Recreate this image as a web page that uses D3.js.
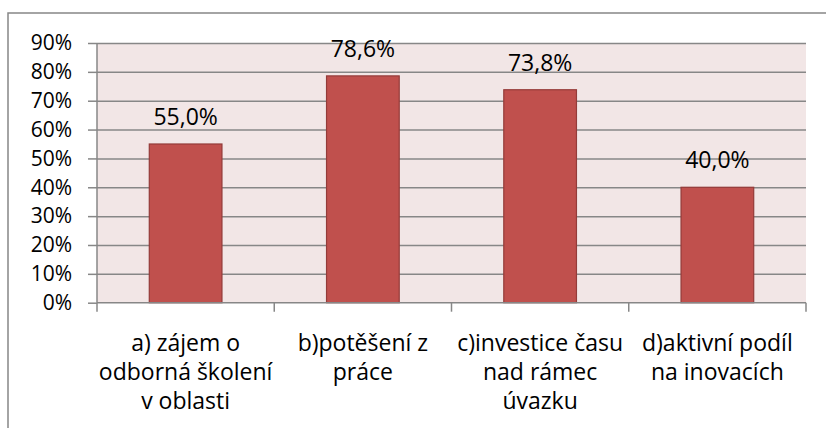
<!DOCTYPE html>
<html>
<head>
<meta charset="utf-8">
<script src="https://cdn.jsdelivr.net/npm/d3@7/dist/d3.min.js"></script>
<style>
  html, body { margin: 0; padding: 0; background: #fff; }
  svg { display: block; }
</style>
</head>
<body>
<div id="chart"></div>
<script>
// Bar chart: share of answers per category (Czech survey).

const categories = ["a", "b", "c", "d"];
const categoryLines = [
  ["a) zájem o", "odborná školení", "v oblasti"],
  ["b)potěšení z", "práce"],
  ["c)investice času", "nad rámec", "úvazku"],
  ["d)aktivní podíl", "na inovacích"],
];
const values = [0.55, 0.786, 0.738, 0.40];
const yTicks = [0, 0.1, 0.2, 0.3, 0.4, 0.5, 0.6, 0.7, 0.8, 0.9];

const W = 826, H = 428;
const PLOT = { left: 97, right: 806, top: 43, bottom: 302.7 };
const FONT = "'Open Sans', 'Liberation Sans', sans-serif";
const FS = 23;
const FS_TICK = 21;   // a bit smaller so stacked tick labels don't collide
const GRID = "#878787";

const svg = d3.select("#chart").append("svg")
  .attr("width", W)
  .attr("height", H);

// outer chart frame (runs off the right/bottom edge in the reference)
svg.append("rect")
  .attr("x", 8).attr("y", 13)
  .attr("width", W).attr("height", H)
  .attr("fill", "#fff")
  .attr("stroke", GRID)
  .attr("stroke-width", 1.5);

const x = d3.scaleBand()
  .domain(categories)
  .range([PLOT.left, PLOT.right])
  .paddingInner(0.59)
  .paddingOuter(0.295);

const xOuter = d3.scaleBand()
  .domain(categories)
  .range([PLOT.left, PLOT.right]);

const y = d3.scaleLinear()
  .domain([0, 0.9])
  .range([PLOT.bottom, PLOT.top]);

// plot background
svg.append("rect")
  .attr("x", PLOT.left).attr("y", PLOT.top)
  .attr("width", PLOT.right - PLOT.left)
  .attr("height", PLOT.bottom - PLOT.top)
  .attr("fill", "#f2e6e6");

// gridlines + y tick marks
const gY = svg.append("g")
  .attr("transform", `translate(${PLOT.left},0)`)
  .call(d3.axisLeft(y)
    .tickValues(yTicks)
    .tickSize(9)
    .tickPadding(16)
    .tickFormat(d => `${Math.round(d * 100)}%`));
gY.select(".domain").attr("stroke", GRID).attr("stroke-width", 1.5).attr("d", `M0,${PLOT.top}V${PLOT.bottom}`);
gY.selectAll(".tick line").attr("stroke", GRID).attr("stroke-width", 1.5);
gY.selectAll(".tick text")
  .attr("fill", "#000")
  .attr("font-family", FONT)
  .attr("font-size", FS_TICK);
gY.selectAll(".tick").filter(d => d > 0)
  .append("line")
  .attr("x1", 0).attr("x2", PLOT.right - PLOT.left)
  .attr("stroke", GRID).attr("stroke-width", 1.5);

// bars
svg.append("g").selectAll("rect")
  .data(values)
  .join("rect")
  .attr("x", (d, i) => x(categories[i]))
  .attr("y", d => y(d))
  .attr("width", x.bandwidth())
  .attr("height", d => y(0) - y(d))
  .attr("fill", "#c0504d")
  .attr("stroke", "#943b39")
  .attr("stroke-width", 1.2);

// value labels
svg.append("g").selectAll("text")
  .data(values)
  .join("text")
  .attr("x", (d, i) => x(categories[i]) + x.bandwidth() / 2)
  .attr("y", d => y(d) - 19)
  .attr("text-anchor", "middle")
  .attr("font-family", FONT)
  .attr("font-size", FS)
  .attr("fill", "#000")
  .text(d => (d * 100).toFixed(1).replace(".", ",") + "%");

// x axis with boundary ticks
const gX = svg.append("g")
  .attr("transform", `translate(0,${PLOT.bottom})`);
gX.append("line")
  .attr("x1", PLOT.left).attr("x2", PLOT.right)
  .attr("stroke", GRID).attr("stroke-width", 1.5);
const bounds = categories.map(c => xOuter(c)).concat([PLOT.right]);
gX.selectAll("line.tk")
  .data(bounds)
  .join("line")
  .attr("class", "tk")
  .attr("x1", d => d).attr("x2", d => d)
  .attr("y1", 0).attr("y2", 9)
  .attr("stroke", GRID).attr("stroke-width", 1.5);

// category labels (multi-line)
const lab = svg.append("g").selectAll("text")
  .data(categoryLines)
  .join("text")
  .attr("text-anchor", "middle")
  .attr("font-family", FONT)
  .attr("font-size", FS)
  .attr("fill", "#000");
lab.each(function (lines, i) {
  const cx = xOuter(categories[i]) + xOuter.bandwidth() / 2;
  d3.select(this).selectAll("tspan")
    .data(lines)
    .join("tspan")
    .attr("x", cx)
    .attr("y", (d, j) => 350.5 + j * 29.2)
    .text(d => d);
});
</script>
</body>
</html>
